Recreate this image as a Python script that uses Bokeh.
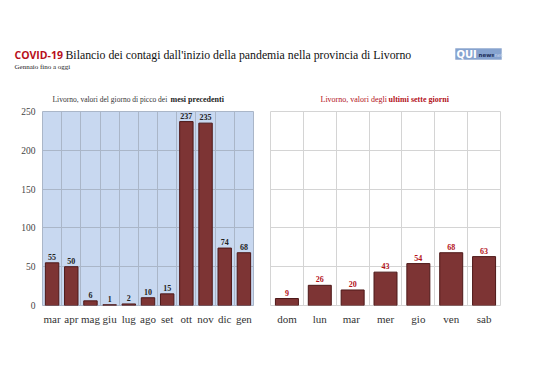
from bokeh.plotting import figure
from bokeh.models import (ColumnDataSource, LabelSet, Label, Range1d, FactorRange,
                          FixedTicker, BoxAnnotation)
from bokeh.layouts import column, row
from bokeh.embed import file_html
from bokeh.resources import INLINE

# ---- data ----
months = ["mar", "apr", "mag", "giu", "lug", "ago", "set", "ott", "nov", "dic", "gen"]
month_peaks = [55, 50, 6, 1, 2, 10, 15, 237, 235, 74, 68]
days = ["dom", "lun", "mar ", "mer", "gio", "ven", "sab"]
day_values = [9, 26, 20, 43, 54, 68, 63]
day_labels = ["dom", "lun", "mar", "mer", "gio", "ven", "sab"]
y_ticks = [0, 50, 100, 150, 200, 250]

SERIF = "Liberation Serif"
BAR = "#7d3434"
BAR_LINE = "#4d1818"
RED = "#b3121b"

# ---- header ----
hdr = figure(width=530, height=105, x_range=Range1d(0, 530), y_range=Range1d(105, 0),
             output_backend="svg", toolbar_location=None, min_border=0)
hdr.axis.visible = False
hdr.grid.visible = False
hdr.outline_line_color = None
hdr.add_layout(Label(x=14, y=54, text="COVID-19", text_font="Open Sans",
                     text_font_style="bold", text_font_size="10.5px",
                     text_color="#b80f1a", text_baseline="alphabetic"))
hdr.add_layout(Label(x=65, y=54, text="Bilancio dei contagi dall'inizio della pandemia nella provincia di Livorno",
                     text_font=SERIF, text_font_size="11.8px",
                     text_color="#111111", text_baseline="alphabetic"))
hdr.add_layout(Label(x=14, y=66, text="Gennaio fino a oggi", text_font=SERIF,
                     text_font_size="7px", text_color="#222222", text_baseline="alphabetic"))
# logo
hdr.add_layout(BoxAnnotation(left=455, right=501, top=48, bottom=59,
                             fill_color="#86a3cf", fill_alpha=1,
                             line_color="#6f8cbc", line_width=1))
hdr.add_layout(Label(x=456, y=53.5, text="QUI", text_font="DejaVu Sans",
                     text_font_style="bold", text_font_size="10px", text_color="white",
                     text_baseline="middle"))
hdr.add_layout(Label(x=478, y=54.5, text="news", text_font="DejaVu Sans",
                     text_font_style="bold", text_font_size="5.5px", text_color="#1d2f5a",
                     text_baseline="middle"))
hdr.add_layout(Label(x=492.5, y=54.5, text=".net", text_font="DejaVu Sans",
                     text_font_size="5px", text_color="#d4def0",
                     text_baseline="middle"))
# panel titles
hdr.add_layout(Label(x=52, y=99, text="Livorno, valori del giorno di picco dei", text_font=SERIF,
                     text_font_size="7.5px", text_color="#333333", text_baseline="alphabetic"))
hdr.add_layout(Label(x=170, y=99, text="mesi precedenti", text_font=SERIF,
                     text_font_style="bold", text_font_size="8px", text_color="#222222",
                     text_baseline="alphabetic"))
hdr.add_layout(Label(x=320, y=99, text="Livorno, valori degli", text_font=SERIF,
                     text_font_size="8px", text_color=RED, text_baseline="alphabetic"))
hdr.add_layout(Label(x=388, y=99, text="ultimi sette giorni", text_font=SERIF,
                     text_font_style="bold", text_font_size="8px", text_color=RED,
                     text_baseline="alphabetic"))


def make_panel(cats, vals, width, left, right, bg, grid_col, lab_col, lab_style,
               show_y, xlabels=None):
    src = ColumnDataSource(dict(cat=cats, val=vals, lab=[str(v) for v in vals]))
    p = figure(width=width, height=267, x_range=FactorRange(*cats, range_padding=0),
               y_range=Range1d(0, 250), output_backend="svg", toolbar_location=None,
               min_border_left=left, min_border_right=right, min_border_top=6,
               min_border_bottom=67)
    p.background_fill_color = bg
    p.outline_line_color = grid_col
    p.vbar(x="cat", top="val", width=0.7, source=src, fill_color=BAR,
           line_color=BAR_LINE, line_width=1)
    p.add_layout(LabelSet(x="cat", y="val", text="lab", source=src, y_offset=3,
                          text_align="center", text_baseline="bottom",
                          text_font=SERIF, text_font_size="8px",
                          text_font_style=lab_style, text_color=lab_col))
    p.xgrid.ticker = FixedTicker(ticks=list(range(1, len(cats))))
    p.xgrid.grid_line_color = grid_col
    p.ygrid.ticker = FixedTicker(ticks=y_ticks)
    p.ygrid.grid_line_color = grid_col
    p.xaxis.axis_line_color = None
    p.xaxis.major_tick_line_color = None
    p.xaxis.minor_tick_line_color = None
    p.xaxis.major_tick_out = 0
    p.xaxis.major_label_text_font = SERIF
    p.xaxis.major_label_text_font_size = "11px"
    p.xaxis.major_label_text_color = "#333333"
    p.xaxis.major_label_standoff = 7
    if xlabels:
        p.xaxis.major_label_overrides = xlabels
    if show_y:
        p.yaxis.ticker = FixedTicker(ticks=y_ticks)
        p.yaxis.axis_line_color = None
        p.yaxis.major_tick_line_color = None
        p.yaxis.minor_tick_line_color = None
        p.yaxis.major_tick_out = 0
        p.yaxis.minor_tick_out = 0
        p.yaxis.major_label_text_font = SERIF
        p.yaxis.major_label_text_font_size = "9.5px"
        p.yaxis.major_label_text_color = "#444444"
        p.yaxis.major_label_standoff = 7
    else:
        p.yaxis.visible = False
    return p


p1 = make_panel(months, month_peaks, 264, 42, 11, "#c8d8f0", "#aab6c8", "#222222",
                "bold", True)
p2 = make_panel(days, day_values, 266, 6, 30, "white", "#d4d4d4", RED, "bold", False,
                xlabels=dict(zip(days, day_labels)))

layout = column(hdr, row(p1, p2, spacing=0), spacing=0)
open("out.html", "w").write(file_html(layout, INLINE))
